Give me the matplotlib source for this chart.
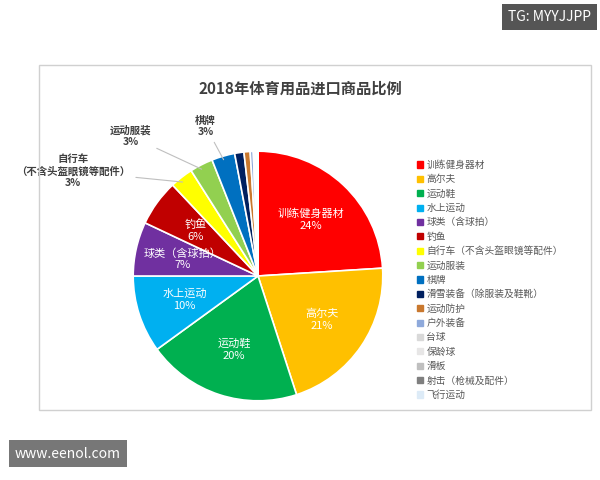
import matplotlib.pyplot as plt
import numpy as np

plt.rcParams['font.family'] = ['Noto Sans CJK SC', 'DejaVu Sans']

categories = ['训练健身器材', '高尔夫', '运动鞋', '水上运动', '球类（含球拍）', '钓鱼',
              '自行车（不含头盔眼镜等配件）', '运动服装', '棋牌', '滑雪装备（除服装及鞋靴）',
              '运动防护', '户外装备', '台球', '保龄球', '滑板', '射击（枪械及配件）', '飞行运动']
values = [24, 21, 20, 10, 7, 6, 3, 3, 3, 1.2, 0.8, 0.4, 0.2, 0.15, 0.1, 0.1, 0.05]
colors = ['#FF0000', '#FFC000', '#00B050', '#00B0F0', '#7030A0', '#C00000', '#FFFF00',
          '#92D050', '#0070C0', '#002060', '#C9782E', '#8EA9DB', '#D9D9D9', '#E7E6E6',
          '#BFBFBF', '#7F7F7F', '#DDEBF7']
inside_labels = {0: '训练健身器材\n24%', 1: '高尔夫\n21%', 2: '运动鞋\n20%', 3: '水上运动\n10%',
                 4: '球类（含球拍）\n7%', 5: '钓鱼\n6%'}
outside_labels = {6: ('自行车\n（不含头盔眼镜等配件）\n3%', (-1.48, 0.84)),
                  7: ('运动服装\n3%', (-1.02, 1.12)),
                  8: ('棋牌\n3%', (-0.42, 1.2))}

fig = plt.figure(figsize=(6, 4.8), dpi=100)
fig.patch.set_facecolor('white')
# chart frame
fig.add_artist(plt.Rectangle((0.065, 0.145), 0.92, 0.72, transform=fig.transFigure,
                             fill=False, edgecolor='#D0D0D0', lw=1))
ax = fig.add_axes([0.17, 0.10, 0.52, 0.65])
wedges, _ = ax.pie(values, colors=colors, startangle=90, counterclock=False,
                   wedgeprops=dict(edgecolor='white', linewidth=1.2))
ax.set_aspect('equal')

for i, w in enumerate(wedges):
    ang = np.deg2rad((w.theta1 + w.theta2) / 2)
    if i in inside_labels:
        r = 0.62
        ax.text(r * np.cos(ang), r * np.sin(ang), inside_labels[i], ha='center', va='center',
                color='white', fontsize=8)
    elif i in outside_labels:
        txt, pos = outside_labels[i]
        ax.annotate(txt, xy=(np.cos(ang) * 0.95, np.sin(ang) * 0.95), xytext=pos,
                    ha='center', va='center', fontsize=7.5, fontweight='bold', color='#404040',
                    arrowprops=dict(arrowstyle='-', color='#BFBFBF', lw=0.8))

fig.text(0.5, 0.805, '2018年体育用品进口商品比例', ha='center', fontsize=11,
         fontweight='bold', color='#404040')

handles = [plt.Rectangle((0, 0), 1, 1, color=c) for c in colors]
fig.legend(handles, categories, loc='upper left', bbox_to_anchor=(0.68, 0.685), frameon=False,
           fontsize=7, handlelength=0.6, handleheight=0.6, labelspacing=0.45,
           handletextpad=0.4, labelcolor='#595959')

fig.text(0.985, 0.965, 'TG: MYYJJPP', ha='right', va='center', color='white', fontsize=10,
         bbox=dict(boxstyle='square,pad=0.45', facecolor='#555555', edgecolor='none'))
fig.text(0.025, 0.055, 'www.eenol.com', ha='left', va='center', color='white', fontsize=10,
         bbox=dict(boxstyle='square,pad=0.45', facecolor='#777777', edgecolor='none'))

plt.savefig('out.png', dpi=100)
